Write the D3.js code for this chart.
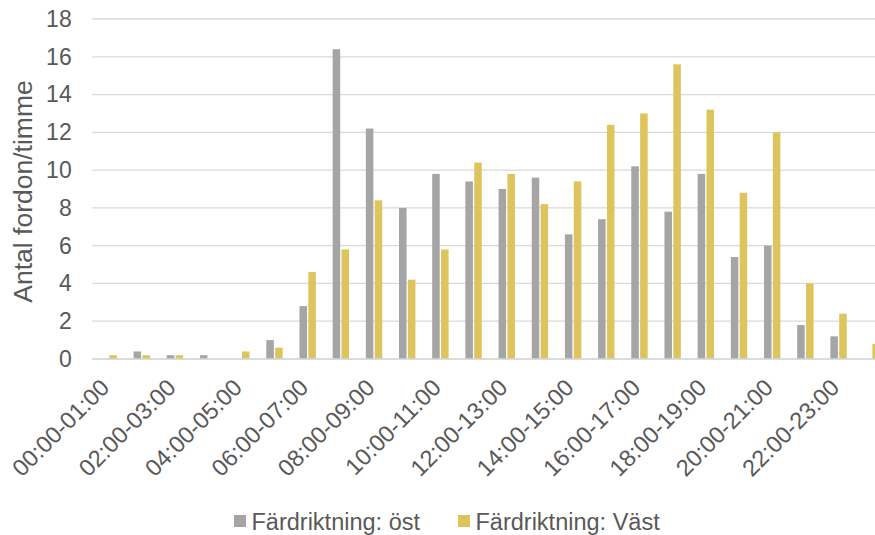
<!DOCTYPE html>
<html>
<head>
<meta charset="utf-8">
<script src="https://cdn.jsdelivr.net/npm/d3@7/dist/d3.min.js"></script>
<style>
  html, body { margin: 0; padding: 0; background: #ffffff; }
  svg { display: block; font-family: "Liberation Sans", Arial, sans-serif; }
</style>
</head>
<body>
<svg id="chart" width="875" height="535"></svg>
<script>
// Hourly intervals
const categories = [
  "00:00-01:00", "01:00-02:00", "02:00-03:00", "03:00-04:00",
  "04:00-05:00", "05:00-06:00", "06:00-07:00", "07:00-08:00",
  "08:00-09:00", "09:00-10:00", "10:00-11:00", "11:00-12:00",
  "12:00-13:00", "13:00-14:00", "14:00-15:00", "15:00-16:00",
  "16:00-17:00", "17:00-18:00", "18:00-19:00", "19:00-20:00",
  "20:00-21:00", "21:00-22:00", "22:00-23:00", "23:00-24:00"
];

// Vehicles per hour, eastbound
const ostValues = [0, 0.4, 0.2, 0.2, 0, 1.0, 2.8, 16.4, 12.2, 8.0, 9.8, 9.4,
                   9.0, 9.6, 6.6, 7.4, 10.2, 7.8, 9.8, 5.4, 6.0, 1.8, 1.2, 0];

// Vehicles per hour, westbound
const vastValues = [0.2, 0.2, 0.2, 0, 0.4, 0.6, 4.6, 5.8, 8.4, 4.2, 5.8, 10.4,
                    9.8, 8.2, 9.4, 12.4, 13.0, 15.6, 13.2, 8.8, 12.0, 4.0, 2.4, 0.8];

const seriesNames = ["Färdriktning: öst", "Färdriktning: Väst"];
const seriesColors = ["#A5A5A5", "#DEC45C"];
const yTicks = [0, 2, 4, 6, 8, 10, 12, 14, 16, 18];

const series = [ostValues, vastValues];

const svg = d3.select("#chart");
const textColor = "#595959";
const gridColor = "#D9D9D9";
const font = "'Liberation Sans', Arial, sans-serif";

// Plot area runs past the right edge of the canvas
const plot = { left: 92.2, top: 19, bottom: 359 };
const step = 33.18;
plot.right = plot.left + step * categories.length;

const x = d3.scaleBand().domain(categories).range([plot.left, plot.right]).padding(0);
const xInner = d3.scaleBand().domain(d3.range(series.length))
  .range([x.bandwidth() / 2 - 8.4, x.bandwidth() / 2 + 8.0]).paddingInner(0.15);
const y = d3.scaleLinear().domain([0, 18]).range([plot.bottom, plot.top]);

// Horizontal gridlines
svg.append("g")
  .selectAll("line")
  .data(yTicks)
  .join("line")
  .attr("x1", plot.left).attr("x2", plot.right)
  .attr("y1", d => y(d)).attr("y2", d => y(d))
  .attr("stroke", gridColor).attr("stroke-width", 1.3);

// Y axis labels
const yAxis = svg.append("g")
  .attr("transform", `translate(${plot.left},0)`)
  .call(d3.axisLeft(y).tickValues(yTicks).tickSize(0).tickPadding(20.5));
yAxis.select(".domain").remove();
yAxis.selectAll("text")
  .attr("fill", textColor)
  .style("font-size", "23px")
  .style("font-family", font);

// Bars
const groups = svg.append("g")
  .selectAll("g")
  .data(categories)
  .join("g")
  .attr("transform", d => `translate(${x(d)},0)`);

groups.selectAll("rect")
  .data((d, i) => series.map((s, k) => ({ k, v: s[i] })))
  .join("rect")
  .attr("x", d => xInner(d.k))
  .attr("width", xInner.bandwidth())
  .attr("y", d => y(d.v))
  .attr("height", d => y(0) - y(d.v))
  .attr("fill", d => seriesColors[d.k]);

// Baseline
svg.append("line")
  .attr("x1", plot.left).attr("x2", plot.right)
  .attr("y1", y(0)).attr("y2", y(0))
  .attr("stroke", gridColor).attr("stroke-width", 1.3);

// X axis labels, every other hour
const xAxis = svg.append("g")
  .attr("transform", `translate(0,${plot.bottom})`)
  .call(d3.axisBottom(x).tickValues(categories.filter((d, i) => i % 2 === 0)).tickSize(0).tickPadding(0));
xAxis.select(".domain").remove();
xAxis.selectAll("text")
  .attr("fill", textColor)
  .style("font-size", "23.5px")
  .style("font-family", font)
  .attr("text-anchor", "end")
  .attr("dy", null)
  .attr("y", 0)
  .attr("transform", "translate(2,30) rotate(-45)");

// Y axis title
svg.append("text")
  .attr("transform", "translate(32,191.5) rotate(-90)")
  .attr("text-anchor", "middle")
  .attr("fill", textColor)
  .style("font-size", "26.5px")
  .text("Antal fordon/timme");

// Legend
const legend = svg.append("g").attr("transform", "translate(0,530)");
const legendX = [234, 458];
seriesNames.forEach((name, k) => {
  const g = legend.append("g").attr("transform", `translate(${legendX[k]},0)`);
  g.append("rect").attr("x", 0).attr("y", -15).attr("width", 12).attr("height", 12)
    .attr("fill", seriesColors[k]);
  g.append("text").attr("x", 17.5).attr("y", 0)
    .attr("fill", textColor).style("font-size", "23.5px").text(name);
});
</script>
</body>
</html>
